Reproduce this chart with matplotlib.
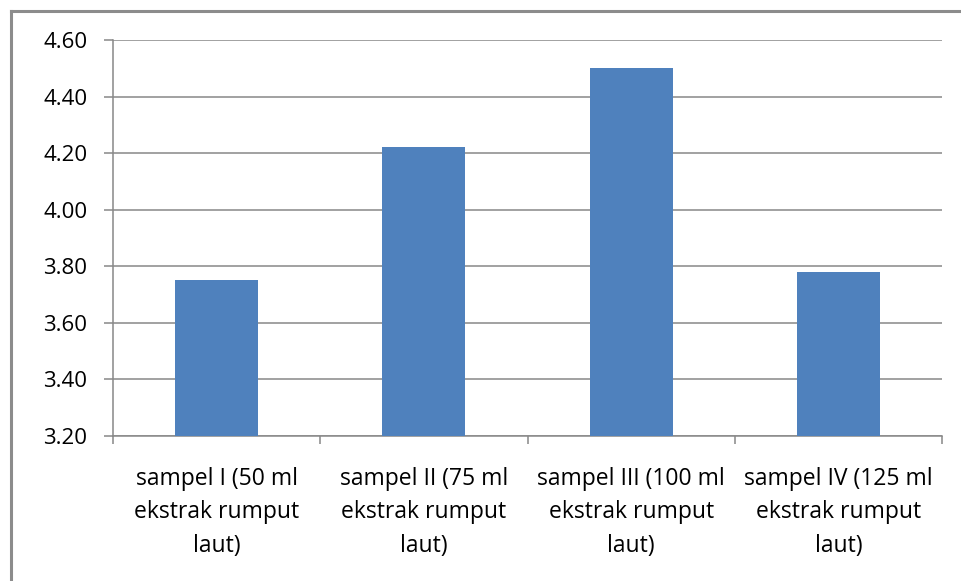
import matplotlib
matplotlib.use('Agg')
import matplotlib.pyplot as plt
from matplotlib.lines import Line2D

plt.rcParams['font.family'] = ['Open Sans', 'DejaVu Sans']

categories = [
    'sampel I (50 ml\nekstrak rumput\nlaut)',
    'sampel II (75 ml\nekstrak rumput\nlaut)',
    'sampel III (100 ml\nekstrak rumput\nlaut)',
    'sampel IV (125 ml\nekstrak rumput\nlaut)',
]
values = [3.75, 4.22, 4.50, 3.78]
y_ticks = [3.20, 3.40, 3.60, 3.80, 4.00, 4.20, 4.40, 4.60]

BAR = '#4F81BD'
GRID = '#888888'
W, H = 962, 581

fig = plt.figure(figsize=(W / 100, H / 100), dpi=100)
ax = fig.add_axes([113 / W, 1 - 436 / H, (942 - 113) / W, (436 - 40) / H])

x = list(range(len(categories)))
ax.bar(x, values, width=0.4, color=BAR, zorder=3)

ax.set_xlim(-0.5, len(categories) - 0.5)
ax.set_ylim(y_ticks[0], y_ticks[-1])
ax.set_yticks(y_ticks)
ax.set_yticklabels([f'{v:.2f}' for v in y_ticks], fontsize=16)
ax.yaxis.grid(True, color=GRID, linewidth=1.1, zorder=0)
ax.set_axisbelow(True)

# category boundaries get the tick marks, labels sit at centres
ax.set_xticks([i - 0.5 for i in range(len(categories) + 1)])
ax.set_xticklabels([])
ax.set_xticks(x, minor=True)
ax.set_xticklabels(categories, minor=True, fontsize=16.5, ha='center', linespacing=1.55)
ax.tick_params(axis='x', which='minor', length=0, pad=22)
ax.tick_params(axis='x', which='major', length=6, width=1.1, color=GRID)
ax.tick_params(axis='y', length=6.5, width=1.1, color=GRID, pad=12)

for side in ('top', 'right'):
    ax.spines[side].set_visible(False)
for side in ('left', 'bottom'):
    ax.spines[side].set_color(GRID)
    ax.spines[side].set_linewidth(1.1)

# outer chart frame (only the top and left edges are visible in the crop)
fx, fy = 11 / W, 1 - 11 / H
fig.add_artist(Line2D([fx, fx], [0, fy], transform=fig.transFigure, color='#8c8c8c', lw=2.2))
fig.add_artist(Line2D([fx, 1], [fy, fy], transform=fig.transFigure, color='#8c8c8c', lw=2.2))

fig.savefig('out.png', dpi=100, facecolor='white')
